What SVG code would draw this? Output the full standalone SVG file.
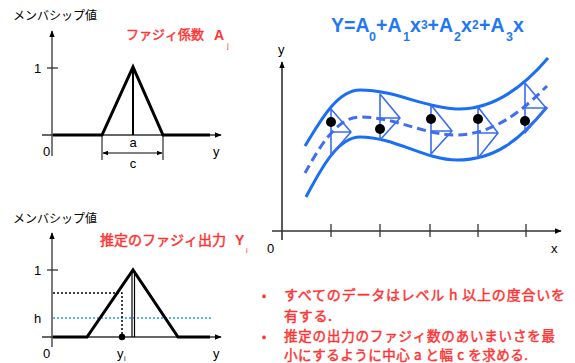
<svg xmlns="http://www.w3.org/2000/svg" width="575" height="363" viewBox="0 0 575 363">
<style>
.ax{stroke:#333;stroke-width:1.3;fill:none}
.thick{stroke:#000;stroke-width:3;fill:none;stroke-linejoin:miter}
.thin{stroke:#000;stroke-width:1;fill:none}
.lbl{font-family:"Liberation Sans",Arial,sans-serif;font-size:13px;fill:#000}
.jp{font-family:"Noto Sans CJK JP","Liberation Sans",sans-serif;font-size:12px;fill:#000}
.red{font-family:"Noto Sans CJK JP","Liberation Sans",sans-serif;fill:#ff3333;stroke:#ff3333;stroke-width:0.45}
.redA{font-family:"Liberation Sans",Arial,sans-serif;fill:#ff3333;font-weight:bold}
.curve{stroke:#1a6ef5;stroke-width:3;fill:none}
.dash{stroke:#3f6ef0;stroke-width:3;fill:none;stroke-dasharray:9,5}
.tri{stroke:#3a6cf0;stroke-width:1.6;fill:none;stroke-linejoin:round}
.eq{font-family:"Liberation Sans",Arial,sans-serif;font-weight:bold;fill:#1e78f5}
</style>
<defs>
<marker id="arr" viewBox="0 0 10 10" refX="9" refY="5" markerWidth="7" markerHeight="7" orient="auto" markerUnits="userSpaceOnUse"><path d="M0,1 L10,5 L0,9 Z" fill="#000"/></marker>
<marker id="arrS" viewBox="0 0 10 10" refX="9" refY="5" markerWidth="6" markerHeight="6" orient="auto-start-reverse" markerUnits="userSpaceOnUse"><path d="M0,1 L10,5 L0,9 Z" fill="#000"/></marker>
</defs>

<g id="plot-top">
<text class="jp" x="13" y="20">メンバシップ値</text>
<line class="ax" x1="52" y1="156" x2="52" y2="31" marker-end="url(#arr)"/>
<line class="ax" x1="42" y1="135" x2="221" y2="135" marker-end="url(#arr)"/>
<line class="ax" x1="47" y1="68" x2="58" y2="68"/>
<text class="lbl" x="34" y="73">1</text>
<text class="lbl" x="43" y="156">0</text>
<text class="lbl" x="213" y="156">y</text>
<polyline class="thick" points="53,135 102,135 133,67 163,135 210,135"/>
<line stroke="#000" stroke-width="2" x1="133" y1="67" x2="133" y2="135"/>
<line class="thin" x1="102" y1="135" x2="102" y2="160"/>
<line class="thin" x1="163" y1="135" x2="163" y2="160"/>
<line class="thin" x1="103" y1="153" x2="162" y2="153" marker-start="url(#arrS)" marker-end="url(#arrS)"/>
<text class="lbl" x="133" y="147" text-anchor="middle">a</text>
<text class="lbl" x="133" y="168" text-anchor="middle">c</text>
<text class="red" x="126" y="39" style="font-size:13px">ファジィ係数</text>
<text class="redA" x="214" y="40" style="font-size:14px">A</text>
<text class="redA" x="227" y="48" style="font-size:8px;font-weight:normal">j</text>
</g>

<g id="plot-bottom">
<text class="jp" x="13" y="223">メンバシップ値</text>
<line class="ax" x1="52" y1="347" x2="52" y2="233" marker-end="url(#arr)"/>
<line class="ax" x1="42" y1="337" x2="221" y2="337" marker-end="url(#arr)"/>
<line class="ax" x1="47" y1="270" x2="58" y2="270"/>
<text class="lbl" x="34" y="275">1</text>
<text class="lbl" x="34" y="323">h</text>
<text class="lbl" x="43" y="358">0</text>
<text class="lbl" x="213" y="358">y</text>
<line stroke="#1a9fff" stroke-width="1.5" stroke-dasharray="2,2" x1="53" y1="318" x2="212" y2="318"/>
<polyline stroke="#000" stroke-width="1.5" stroke-dasharray="2,2" fill="none" points="53,293 122,293 122,337"/>
<polyline class="thick" points="53,337 87,337 133,270 178,337 210,337"/>
<line stroke="#000" stroke-width="1.2" x1="132" y1="270" x2="132" y2="337"/>
<line stroke="#000" stroke-width="1.2" x1="134.5" y1="272" x2="134.5" y2="337"/>
<circle cx="122" cy="337" r="3.2" fill="#000"/>
<text class="lbl" x="117" y="358">y</text>
<text class="lbl" x="124" y="361" style="font-size:7px">i</text>
<text class="red" x="100" y="245" style="font-size:14px">推定のファジィ出力</text>
<text class="redA" x="235" y="245" style="font-size:14px">Y</text>
<text class="redA" x="246" y="253" style="font-size:8px;font-weight:normal">i</text>
</g>

<g id="equation">
<text class="eq" font-size="19.5" y="32"><tspan x="331">Y=A</tspan><tspan x="369" y="40.5" font-size="12.5">0</tspan><tspan x="376" y="32">+A</tspan><tspan x="403" y="40.5" font-size="12.5">1</tspan><tspan x="410" y="32">x</tspan><tspan x="421" y="29" font-size="12">3</tspan><tspan x="427.5" y="32">+A</tspan><tspan x="454" y="40.5" font-size="12.5">2</tspan><tspan x="461" y="32">x</tspan><tspan x="472" y="29" font-size="12">2</tspan><tspan x="479" y="32">+A</tspan><tspan x="506" y="40.5" font-size="12.5">3</tspan><tspan x="513" y="32">x</tspan></text>
</g>

<g id="plot-right">
<line stroke="#000" stroke-width="1.3" x1="282" y1="240" x2="282" y2="62" marker-end="url(#arr)"/>
<line class="ax" x1="272" y1="231" x2="561" y2="231" marker-end="url(#arr)"/>
<g class="ax">
<line x1="331" y1="224" x2="331" y2="237"/>
<line x1="380" y1="224" x2="380" y2="237"/>
<line x1="430" y1="224" x2="430" y2="237"/>
<line x1="478" y1="224" x2="478" y2="237"/>
<line x1="526" y1="224" x2="526" y2="237"/>
</g>
<text class="lbl" x="278" y="54">y</text>
<text class="lbl" x="267" y="253">0</text>
<text class="lbl" x="551" y="253">x</text>
</g>

<g id="band">
<path class="curve" d="M305,146 C318,125 336,90 360,90 C395,90 425,108 457,109 C495,110 525,85 548,58"/>
<path class="curve" d="M306,197 C318,175 336,137 360,137 C395,137 425,160 457,160 C495,160 520,140 547,107"/>
<path class="dash" d="M305,173 C318,150 336,117 360,117 C395,117 425,135 455,135 C495,135 525,108 547,86"/>
</g>

<g id="fuzzy-outputs">
<path class="tri" d="M331,109 L331,155 L351,132 Z M331,132 H351"/>
<path class="tri" d="M380,94 L380,140 L400,118 Z M380,118 H400"/>
<path class="tri" d="M431,105 L431,154 L452,131 Z M431,131 H452"/>
<path class="tri" d="M478,107 L478,158 L498,133 Z M478,133 H498"/>
<path class="tri" d="M525,83 L525,133 L546,108 Z M525,108 H546"/>
</g>

<g id="data">
<circle cx="331" cy="122" r="5" fill="#000"/>
<circle cx="380" cy="129" r="5" fill="#000"/>
<circle cx="431" cy="119" r="5" fill="#000"/>
<circle cx="478" cy="119" r="5" fill="#000"/>
<circle cx="525" cy="121" r="5" fill="#000"/>
</g>

<g id="notes">
<text class="red" x="262" y="300" style="font-size:12px">•</text>
<text class="red" x="284" y="300" style="font-size:14px" textLength="281" lengthAdjust="spacing">すべてのデータはレベル h 以上の度合いを</text>
<text class="red" x="284" y="321" style="font-size:14px" textLength="48" lengthAdjust="spacing">有する.</text>
<text class="red" x="262" y="341" style="font-size:12px">•</text>
<text class="red" x="284" y="341" style="font-size:13.5px" textLength="271" lengthAdjust="spacing">推定の出力のファジィ数のあいまいさを最</text>
<text class="red" x="284" y="360" style="font-size:13.5px" textLength="244" lengthAdjust="spacing">小にするように中心 a と幅 c を求める.</text>
</g>
</svg>
